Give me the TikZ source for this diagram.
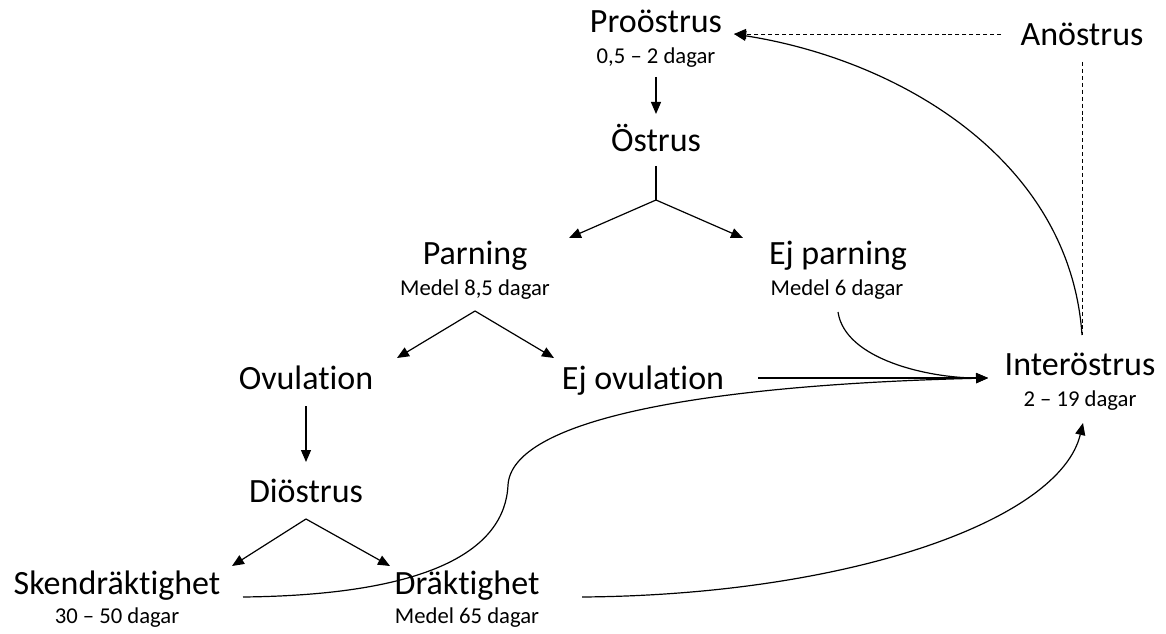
\documentclass[tikz,border=0pt]{standalone}
\usepackage{fontspec}
\setmainfont{Carlito}[Ligatures={NoCommon}]
\usetikzlibrary{arrows.meta}
\begin{document}
\begin{tikzpicture}[x=0.75pt,y=-0.75pt,
  big/.style={font=\fontsize{25.5}{30}\selectfont, inner sep=0pt, anchor=base},
  small/.style={font=\fontsize{17}{20}\selectfont, inner sep=0pt, anchor=base},
  conn/.style={line width=0.9pt, draw=black},
  arr/.style={conn, -{Triangle[length=9pt,width=7.5pt]}},
  dashline/.style={line width=0.7pt, draw=black, dash pattern=on 3pt off 2.2pt}]
\useasboundingbox (0,0) rectangle (1166,634);
% nodes
\node[big] (pro) at (656,33) {Proöstrus};
\node[small] (prod) at (656,64) {0,5 – 2 dagar};
\node[big] (ano) at (1082,46) {Anöstrus};
\node[big] (ost) at (656,152) {Östrus};
\node[big] (par) at (475,265) {Parning};
\node[small] (pard) at (475,296) {Medel 8,5 dagar};
\node[big] (ejp) at (838,265) {Ej parning};
\node[small] (ejpd) at (837,296) {Medel 6 dagar};
\node[big] (ovu) at (306,389) {Ovulation};
\node[big] (ejo) at (643,389) {Ej ovulation};
\node[big] (int) at (1080,375) {Interöstrus};
\node[small] (intd) at (1080,406) {2 – 19 dagar};
\node[big] (dio) at (306,502) {Diöstrus};
\node[big] (ske) at (117,594) {Skendräktighet};
\node[small] (sked) at (117,623) {30 – 50 dagar};
\node[big] (dra) at (467,594) {Dräktighet};
\node[small] (drad) at (467,623) {Medel 65 dagar};
% connector end points
\coordinate (pro-out) at (656,77);
\coordinate (ost-in) at (656,114);
\coordinate (ost-out) at (656,166);
\coordinate (ost-fork) at (656,200);
\coordinate (par-in) at (569,238);
\coordinate (ejp-in) at (743,238);
\coordinate (par-fork) at (475,311);
\coordinate (ovu-in) at (397,358);
\coordinate (ejo-in) at (554,358);
\coordinate (ovu-out) at (306,406);
\coordinate (dio-in) at (306,462);
\coordinate (dio-fork) at (306,519);
\coordinate (ske-in) at (232,566);
\coordinate (dra-in) at (390,566);
\coordinate (ejo-out) at (758,378);
\coordinate (int-in) at (988,378);
\coordinate (ejp-out) at (838,312);
\coordinate (ske-out) at (243,597);
\coordinate (dra-out) at (582,597);
\coordinate (int-in2) at (1083,423);
\coordinate (int-out) at (1082,335);
\coordinate (pro-in) at (734,34);
\coordinate (ano-out) at (1001,34);
\coordinate (ano-down) at (1082,62);
% connectors
\draw[arr] (pro-out) -- (ost-in);
\draw[conn] (ost-out) -- (ost-fork);
\draw[arr] (ost-fork) -- (par-in);
\draw[arr] (ost-fork) -- (ejp-in);
\draw[arr] (par-fork) -- (ovu-in);
\draw[arr] (par-fork) -- (ejo-in);
\draw[arr] (ovu-out) -- (dio-in);
\draw[arr] (dio-fork) -- (ske-in);
\draw[arr] (dio-fork) -- (dra-in);
\draw[arr] (ejo-out) -- (int-in);
\draw[arr] (ejp-out) .. controls (845,360) and (930,378) .. (int-in);
\draw[arr] (ske-out) .. controls (430,595) and (505,550) .. (508,485)
  .. controls (512,420) and (700,385) .. (int-in);
\draw[arr] (dra-out) .. controls (850,595) and (1060,520) .. (int-in2);
\draw[arr] (int-out) .. controls (1070,160) and (900,60) .. (pro-in);
\draw[dashline, -{Triangle[length=9pt,width=7.5pt]}] (ano-out) -- (pro-in);
\draw[dashline] (ano-down) -- (int-out);
\end{tikzpicture}
\end{document}
